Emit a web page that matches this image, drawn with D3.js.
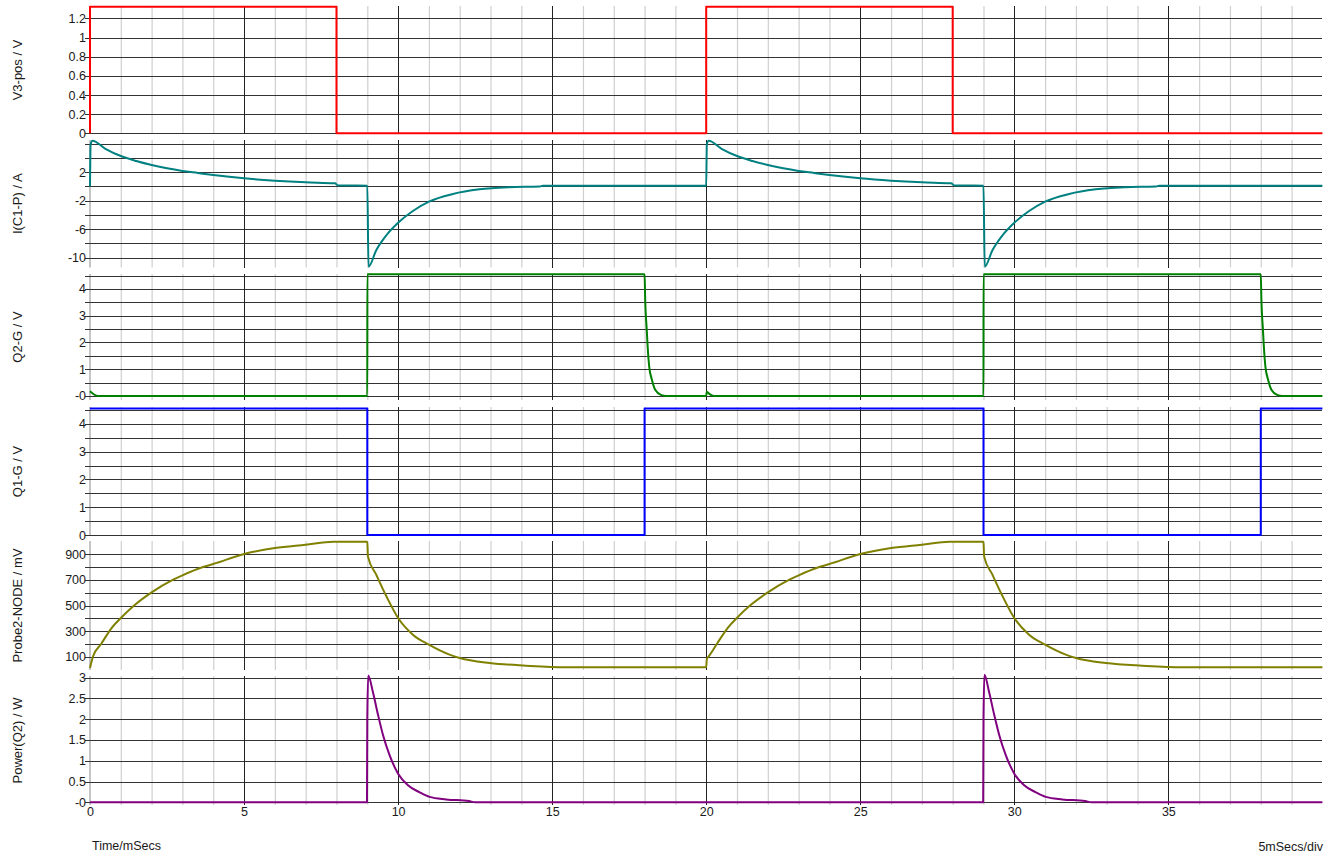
<!DOCTYPE html>
<html>
<head>
<meta charset="utf-8">
<script src="https://cdn.jsdelivr.net/npm/d3@7/dist/d3.min.js"></script>
<style>
  html, body { margin: 0; padding: 0; background: #fff; }
  svg { display: block; font-family: "Liberation Sans", Arial, sans-serif; }
</style>
</head>
<body>
<svg id="chart" width="1331" height="854"></svg>
<script>
// ---------------- DATA (time in ms) ----------------
const xTickValues = [0, 5, 10, 15, 20, 25, 30, 35];
const xTickLabels = ["0", "5", "10", "15", "20", "25", "30", "35"];
const xMinorValues = d3.range(1, 40);
const xMajorValues = [5, 10, 15, 20, 25, 30, 35];

const seriesNames = ["V3-pos / V", "I(C1-P) / A", "Q2-G / V", "Q1-G / V", "Probe2-NODE / mV", "Power(Q2) / W"];

const v3pos = [[0,0],[0,1.32],[8,1.32],[8,0],[20,0],[20,1.32],[28,1.32],[28,0],[40,0]];

const iC1 = [
  [0,0],[0.02,5.9],[0.08,6.43],[0.5,5.3],[1,4.28],[1.5,3.58],[2,3.02],[2.5,2.55],[3,2.18],[3.5,1.9],
  [4,1.62],[5,1.15],[6,0.82],[7,0.59],[7.95,0.45],[8.05,0.15],[9,0.12],
  [9.04,-11.27],[9.29,-8.95],[9.62,-6.85],[10,-5.1],[10.48,-3.45],[11,-2.13],[11.78,-1.05],
  [12.64,-0.4],[13.6,-0.1],[14.6,0.0],[14.7,0.1],[20,0.1],
  [20.02,5.9],[20.08,6.43],[20.5,5.3],[21,4.28],[21.5,3.58],[22,3.02],[22.5,2.55],[23,2.18],[23.5,1.9],
  [24,1.62],[25,1.15],[26,0.82],[27,0.59],[27.95,0.45],[28.05,0.15],[29,0.12],
  [29.04,-11.27],[29.29,-8.95],[29.62,-6.85],[30,-5.1],[30.48,-3.45],[31,-2.13],[31.78,-1.05],
  [32.64,-0.4],[33.6,-0.1],[34.6,0.0],[34.7,0.1],[40,0.1]
];

const q2g = [
  [0,0.18],[0.08,0.1],[0.25,0],[9,0],[9.001,4.55],[18,4.55],[18.02,3.59],[18.07,2.47],[18.1,1.84],
  [18.15,1.1],[18.24,0.6],[18.35,0.22],[18.53,0.04],[18.7,0],[20,0],[20.02,0.16],[20.1,0.08],
  [20.25,0],[29,0],[29.001,4.55],[38,4.55],[38.02,3.59],[38.07,2.47],[38.1,1.84],[38.15,1.1],
  [38.24,0.6],[38.35,0.22],[38.53,0.04],[38.7,0],[40,0]
];

const q1g = [[0,4.56],[9,4.56],[9,0],[18,0],[18,4.56],[29,4.56],[29,0],[38,0],[38,4.56],[40,4.56]];

const probe2 = [
  [0,12],[0.1,103],[0.36,199],[0.7,324],[1,402],[1.46,506],[2,603],[2.7,702],[3,736],[3.67,801],
  [4,824],[5,902],[6,949],[7,975],[7.9,998],[9,998],[9.02,884],[9.29,741],[9.62,572],[10,402],
  [10.48,272],[11,194],[11.67,116],[12,90],[12.97,51],[14.15,30],[15.45,17],[20,17],
  [20.02,80],[20.1,108],[20.36,205],[20.7,326],[21,404],[21.46,507],[22,603],[22.7,702],[23,736],
  [23.67,801],[24,824],[25,902],[26,949],[27,975],[27.9,998],[29,998],[29.02,884],[29.29,741],
  [29.62,572],[30,402],[30.48,272],[31,194],[31.67,116],[32,90],[32.97,51],[34.15,30],[35.45,17],[40,17]
];

const powerQ2 = [
  [0,0],[8.99,0],[9.0,2.0],[9.03,3.05],[9.18,2.66],[9.35,2.1],[9.51,1.62],[9.72,1.14],[10,0.69],
  [10.32,0.41],[10.7,0.24],[11.02,0.13],[11.56,0.07],[12.3,0.03],[12.5,0],[28.99,0],[29.0,2.0],
  [29.03,3.07],[29.18,2.66],[29.35,2.1],[29.51,1.62],[29.72,1.14],[30,0.69],[30.32,0.41],
  [30.7,0.24],[31.02,0.13],[31.56,0.07],[32.3,0.03],[32.5,0],[40,0]
];

const v3Ticks = [0, 0.2, 0.4, 0.6, 0.8, 1, 1.2];
const v3Labels = ["0", "0.2", "0.4", "0.6", "0.8", "1", "1.2"];
const iTicks = [6, 4, 2, 0, -2, -4, -6, -8, -10];
const iLabels = ["", "", "2", "", "-2", "", "-6", "", "-10"];
const q2Ticks = [0, 0.5, 1, 1.5, 2, 2.5, 3, 3.5, 4, 4.5];
const q2Labels = ["-0", "", "1", "", "2", "", "3", "", "4", ""];
const q1Ticks = [0, 0.5, 1, 1.5, 2, 2.5, 3, 3.5, 4, 4.5];
const q1Labels = ["0", "", "1", "", "2", "", "3", "", "4", ""];
const pTicks = [100, 200, 300, 400, 500, 600, 700, 800, 900];
const pLabels = ["100", "", "300", "", "500", "", "700", "", "900"];
const wTicks = [0, 0.5, 1, 1.5, 2, 2.5, 3];
const wLabels = ["-0", "0.5", "1", "1.5", "2", "2.5", "3"];

const seriesColors = ["#ff0000", "#008080", "#008000", "#0000ff", "#808000", "#800080"];

// ---------------- LAYOUT ----------------
const svg = d3.select("#chart");
const X0 = 90, X1 = 1322.4;
const x = d3.scaleLinear().domain([0, 40]).range([X0, X1]);

const panels = [
  { top: 6,   bottom: 134, domain: [-0.007, 1.329], data: v3pos,   ticks: v3Ticks, labels: v3Labels, curve: d3.curveLinear },
  { top: 140, bottom: 267.5, domain: [-11.38, 6.53], data: iC1,   ticks: iTicks, labels: iLabels, curve: d3.curveMonotoneX },
  { top: 274, bottom: 400, domain: [-0.15, 4.56],  data: q2g,     ticks: q2Ticks, labels: q2Labels, curve: d3.curveMonotoneX },
  { top: 407, bottom: 536, domain: [-0.036, 4.61], data: q1g,     ticks: q1Ticks, labels: q1Labels, curve: d3.curveLinear },
  { top: 541, bottom: 670, domain: [-4, 1004],     data: probe2,  ticks: pTicks, labels: pLabels, curve: d3.curveMonotoneX },
  { top: 676, bottom: 805, domain: [-0.065, 3.04], data: powerQ2, ticks: wTicks, labels: wLabels, curve: d3.curveMonotoneX }
];

panels.forEach((p, i) => {
  const y = d3.scaleLinear().domain(p.domain).range([p.bottom, p.top]);
  const g = svg.append("g");
  const h = p.bottom - p.top;

  // minor vertical grid
  const minor = g.append("g").attr("transform", `translate(0,${p.bottom})`)
    .call(d3.axisBottom(x).tickValues(xMinorValues.filter(v => !xMajorValues.includes(v))).tickSize(-h).tickFormat(""));
  minor.select(".domain").remove();
  minor.selectAll(".tick line").attr("stroke", "#cfcfcf").attr("stroke-width", 1.2);

  // left edge (t = 0)
  g.append("line").attr("x1", x(0)).attr("x2", x(0)).attr("y1", p.top).attr("y2", p.bottom)
    .attr("stroke", "#c4c4c4").attr("stroke-width", 2);

  // horizontal grid + labels
  const yAxis = g.append("g").attr("transform", `translate(${X0},0)`)
    .call(d3.axisLeft(y).tickValues(p.ticks).tickSize(-(X1 - X0)).tickPadding(4)
      .tickFormat((d, k) => p.labels[k]));
  yAxis.select(".domain").remove();
  yAxis.selectAll(".tick line").attr("x1", -5).attr("stroke", "#333").attr("stroke-width", 1)
    .attr("shape-rendering", "crispEdges");
  yAxis.selectAll(".tick text").attr("fill", "#1a1a1a").style("font-size", "12.5px")
    .style("font-family", "'Liberation Sans', Arial, sans-serif");

  // major vertical grid
  const major = g.append("g").attr("transform", `translate(0,${p.bottom})`)
    .call(d3.axisBottom(x).tickValues(xMajorValues).tickSize(-h).tickFormat(""));
  major.select(".domain").remove();
  major.selectAll(".tick line").attr("stroke", "#222").attr("stroke-width", 1)
    .attr("shape-rendering", "crispEdges");

  // series title
  g.append("text")
    .attr("transform", `translate(22,${(p.top + p.bottom) / 2}) rotate(-90)`)
    .attr("text-anchor", "middle")
    .attr("fill", "#1a1a1a")
    .style("font-size", "13px")
    .text(seriesNames[i]);

  // trace
  const line = d3.line().x(d => x(d[0])).y(d => y(d[1])).curve(p.curve);
  g.append("path").datum(p.data)
    .attr("d", line)
    .attr("fill", "none")
    .attr("stroke", seriesColors[i])
    .attr("stroke-width", 2)
    .attr("stroke-linejoin", "round");
});

// x-axis labels
const last = panels[panels.length - 1];
const xAxis = svg.append("g").attr("transform", `translate(0,${last.bottom})`)
  .call(d3.axisBottom(x).tickValues(xTickValues).tickSize(0).tickPadding(2)
    .tickFormat((d, k) => xTickLabels[k]));
xAxis.select(".domain").remove();
xAxis.selectAll(".tick text").attr("fill", "#1a1a1a").style("font-size", "12.5px")
  .style("font-family", "'Liberation Sans', Arial, sans-serif");

svg.append("text").attr("x", 92).attr("y", 850).attr("fill", "#1a1a1a")
  .style("font-size", "12.5px").text("Time/mSecs");
svg.append("text").attr("x", 1323).attr("y", 851).attr("text-anchor", "end").attr("fill", "#1a1a1a")
  .style("font-size", "12.5px").text("5mSecs/div");
</script>
</body>
</html>
